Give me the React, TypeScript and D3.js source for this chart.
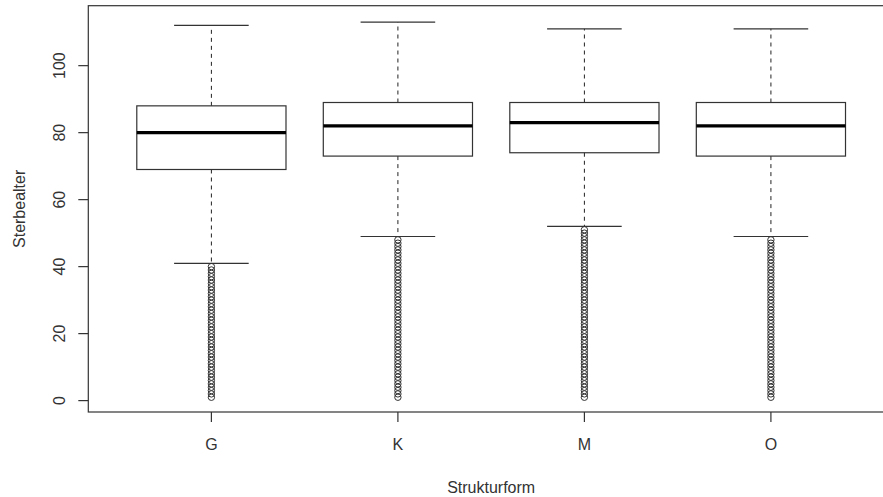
import React from "react";
import * as d3 from "d3";

const categories = ["G", "K", "M", "O"];
const whiskerLow = [41, 49, 52, 49];
const q1 = [69, 73, 74, 73];
const median = [80, 82, 83, 82];
const q3 = [88, 89, 89, 89];
const whiskerHigh = [112, 113, 111, 111];
const outliersG = [1, 2, 3, 4, 5, 6, 7, 8, 9, 10, 11, 12, 13, 14, 15, 16, 17, 18, 19, 20, 21, 22, 23, 24, 25, 26, 27, 28, 29, 30, 31, 32, 33, 34, 35, 36, 37, 38, 39, 40];
const outliersK = [1, 2, 3, 4, 5, 6, 7, 8, 9, 10, 11, 12, 13, 14, 15, 16, 17, 18, 19, 20, 21, 22, 23, 24, 25, 26, 27, 28, 29, 30, 31, 32, 33, 34, 35, 36, 37, 38, 39, 40, 41, 42, 43, 44, 45, 46, 47, 48];
const outliersM = [1, 2, 3, 4, 5, 6, 7, 8, 9, 10, 11, 12, 13, 14, 15, 16, 17, 18, 19, 20, 21, 22, 23, 24, 25, 26, 27, 28, 29, 30, 31, 32, 33, 34, 35, 36, 37, 38, 39, 40, 41, 42, 43, 44, 45, 46, 47, 48, 49, 50, 51];
const outliersO = [1, 2, 3, 4, 5, 6, 7, 8, 9, 10, 11, 12, 13, 14, 15, 16, 17, 18, 19, 20, 21, 22, 23, 24, 25, 26, 27, 28, 29, 30, 31, 32, 33, 34, 35, 36, 37, 38, 39, 40, 41, 42, 43, 44, 45, 46, 47, 48];
const outliers = [outliersG, outliersK, outliersM, outliersO];
const yTicks = [0, 20, 40, 60, 80, 100];
const xTitle = "Strukturform";
const yTitle = "Sterbealter";

export default function App() {
  const W = 883, H = 497;
  const left = 88.3, right = 894, top = 5.7, bottom = 412;
  const x = d3.scaleLinear().domain([0.34, 4.66]).range([left, right]);
  const y = d3.scaleLinear().domain([-3.4, 117.9]).range([bottom, top]);
  const halfBox = (x(1.4) - x(1)) ;
  const halfCap = halfBox / 2;
  const ink = "#333";
  const font = "Liberation Sans, Arial, sans-serif";

  return (
    <svg width={W} height={H} style={{ position: "absolute", left: 0, top: 0, background: "#fff" }}>
      <rect x={0} y={0} width={W} height={H} fill="#fff" />
      {categories.map((c, i) => {
        const cx = x(i + 1);
        return (
          <g key={c}>
            <line x1={cx} x2={cx} y1={y(q3[i])} y2={y(whiskerHigh[i])} stroke="#222" strokeWidth={1} strokeDasharray="4,4" />
            <line x1={cx} x2={cx} y1={y(q1[i])} y2={y(whiskerLow[i])} stroke="#222" strokeWidth={1} strokeDasharray="4,4" />
            <line x1={cx - halfCap} x2={cx + halfCap} y1={y(whiskerHigh[i])} y2={y(whiskerHigh[i])} stroke={ink} strokeWidth={1.2} />
            <line x1={cx - halfCap} x2={cx + halfCap} y1={y(whiskerLow[i])} y2={y(whiskerLow[i])} stroke={ink} strokeWidth={1.2} />
            <rect x={cx - halfBox} y={y(q3[i])} width={2 * halfBox} height={y(q1[i]) - y(q3[i])} fill="none" stroke={ink} strokeWidth={1.2} />
            <line x1={cx - halfBox} x2={cx + halfBox} y1={y(median[i])} y2={y(median[i])} stroke="#000" strokeWidth={3.2} />
            {outliers[i].map((v, j) => (
              <circle key={j} cx={cx} cy={y(v)} r={3.2} fill="none" stroke={ink} strokeWidth={1} />
            ))}
          </g>
        );
      })}
      <rect x={left} y={top} width={right - left} height={bottom - top} fill="none" stroke={ink} strokeWidth={1.2} />
      {yTicks.map((t) => (
        <g key={t}>
          <line x1={left - 10} x2={left} y1={y(t)} y2={y(t)} stroke={ink} strokeWidth={1.2} />
          <text transform={`translate(65,${y(t)}) rotate(-90)`} textAnchor="middle" fontFamily={font} fontSize={16} fill="#333">{t}</text>
        </g>
      ))}
      {categories.map((c, i) => (
        <g key={c}>
          <line x1={x(i + 1)} x2={x(i + 1)} y1={bottom} y2={bottom + 10} stroke={ink} strokeWidth={1.2} />
          <text x={x(i + 1)} y={450} textAnchor="middle" fontFamily={font} fontSize={16} fill="#333">{c}</text>
        </g>
      ))}
      <text x={(left + right) / 2} y={493} textAnchor="middle" fontFamily={font} fontSize={16} fill="#333">{xTitle}</text>
      <text transform={`translate(24.5,${(top + bottom) / 2}) rotate(-90)`} textAnchor="middle" fontFamily={font} fontSize={16} fill="#333">{yTitle}</text>
    </svg>
  );
}
